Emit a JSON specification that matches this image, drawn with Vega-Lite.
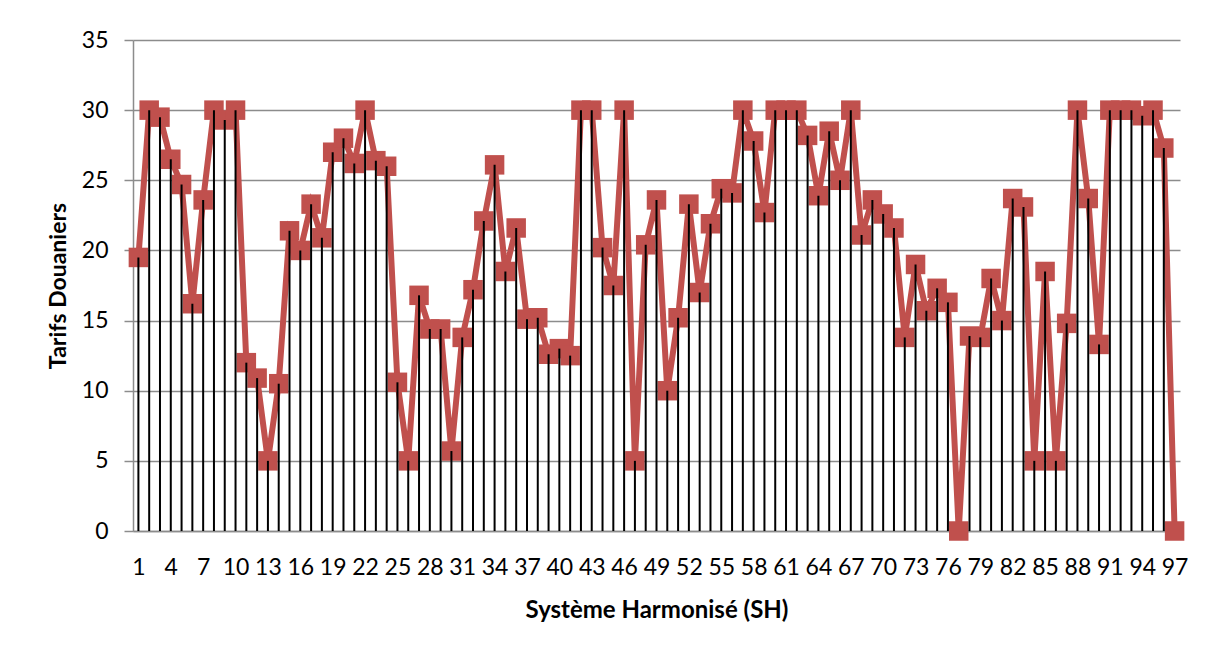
{
  "$schema": "https://vega.github.io/schema/vega-lite/v6.json",
  "autosize": {"type": "none"},
  "width": 1047,
  "height": 491,
  "padding": {"left": 133, "top": 40, "right": 32, "bottom": 117},
  "background": "white",
  "config": {
    "view": {"stroke": null},
    "font": "Lato"
  },
  "data": {
    "values": [
      {"sh": 1, "tarif": 19.5}, {"sh": 2, "tarif": 30}, {"sh": 3, "tarif": 29.5}, {"sh": 4, "tarif": 26.5},
      {"sh": 5, "tarif": 24.7}, {"sh": 6, "tarif": 16.2}, {"sh": 7, "tarif": 23.6}, {"sh": 8, "tarif": 30},
      {"sh": 9, "tarif": 29.3}, {"sh": 10, "tarif": 30}, {"sh": 11, "tarif": 12.0}, {"sh": 12, "tarif": 10.9},
      {"sh": 13, "tarif": 5}, {"sh": 14, "tarif": 10.5}, {"sh": 15, "tarif": 21.4}, {"sh": 16, "tarif": 20},
      {"sh": 17, "tarif": 23.3}, {"sh": 18, "tarif": 20.9}, {"sh": 19, "tarif": 27.0}, {"sh": 20, "tarif": 28.0},
      {"sh": 21, "tarif": 26.2}, {"sh": 22, "tarif": 30}, {"sh": 23, "tarif": 26.4}, {"sh": 24, "tarif": 26.0},
      {"sh": 25, "tarif": 10.6}, {"sh": 26, "tarif": 5}, {"sh": 27, "tarif": 16.8}, {"sh": 28, "tarif": 14.4},
      {"sh": 29, "tarif": 14.4}, {"sh": 30, "tarif": 5.7}, {"sh": 31, "tarif": 13.8}, {"sh": 32, "tarif": 17.2},
      {"sh": 33, "tarif": 22.1}, {"sh": 34, "tarif": 26.1}, {"sh": 35, "tarif": 18.5}, {"sh": 36, "tarif": 21.6},
      {"sh": 37, "tarif": 15.1}, {"sh": 38, "tarif": 15.2}, {"sh": 39, "tarif": 12.6}, {"sh": 40, "tarif": 13.0},
      {"sh": 41, "tarif": 12.5}, {"sh": 42, "tarif": 30}, {"sh": 43, "tarif": 30}, {"sh": 44, "tarif": 20.2},
      {"sh": 45, "tarif": 17.5}, {"sh": 46, "tarif": 30}, {"sh": 47, "tarif": 5}, {"sh": 48, "tarif": 20.4},
      {"sh": 49, "tarif": 23.6}, {"sh": 50, "tarif": 10.0}, {"sh": 51, "tarif": 15.2}, {"sh": 52, "tarif": 23.3},
      {"sh": 53, "tarif": 17.0}, {"sh": 54, "tarif": 21.9}, {"sh": 55, "tarif": 24.4}, {"sh": 56, "tarif": 24.1},
      {"sh": 57, "tarif": 30}, {"sh": 58, "tarif": 27.8}, {"sh": 59, "tarif": 22.7}, {"sh": 60, "tarif": 30},
      {"sh": 61, "tarif": 30}, {"sh": 62, "tarif": 30}, {"sh": 63, "tarif": 28.2}, {"sh": 64, "tarif": 23.9},
      {"sh": 65, "tarif": 28.5}, {"sh": 66, "tarif": 25.0}, {"sh": 67, "tarif": 30}, {"sh": 68, "tarif": 21.1},
      {"sh": 69, "tarif": 23.6}, {"sh": 70, "tarif": 22.6}, {"sh": 71, "tarif": 21.6}, {"sh": 72, "tarif": 13.8},
      {"sh": 73, "tarif": 19.0}, {"sh": 74, "tarif": 15.7}, {"sh": 75, "tarif": 17.3}, {"sh": 76, "tarif": 16.3},
      {"sh": 77, "tarif": 0}, {"sh": 78, "tarif": 13.9}, {"sh": 79, "tarif": 13.8}, {"sh": 80, "tarif": 18.0},
      {"sh": 81, "tarif": 15.0}, {"sh": 82, "tarif": 23.7}, {"sh": 83, "tarif": 23.1}, {"sh": 84, "tarif": 5},
      {"sh": 85, "tarif": 18.5}, {"sh": 86, "tarif": 5}, {"sh": 87, "tarif": 14.8}, {"sh": 88, "tarif": 30},
      {"sh": 89, "tarif": 23.7}, {"sh": 90, "tarif": 13.3}, {"sh": 91, "tarif": 30}, {"sh": 92, "tarif": 30},
      {"sh": 93, "tarif": 30}, {"sh": 94, "tarif": 29.6}, {"sh": 95, "tarif": 30}, {"sh": 96, "tarif": 27.3},
      {"sh": 97, "tarif": 0}
    ]
  },
  "encoding": {
    "x": {
      "field": "sh",
      "type": "ordinal",
      "scale": {"type": "point", "padding": 0.5},
      "axis": {
        "title": "Système Harmonisé (SH)",
        "values": [1,4,7,10,13,16,19,22,25,28,31,34,37,40,43,46,49,52,55,58,61,64,67,70,73,76,79,82,85,88,91,94,97],
        "labelAngle": 0,
        "labelFont": "Lato",
        "labelFontSize": 23,
        "labelColor": "black",
        "labelPadding": 25,
        "ticks": false,
        "domain": true,
        "domainColor": "#8c8c8c",
        "domainWidth": 1.5,
        "grid": false,
        "titleFont": "Lato",
        "titleFontSize": 24,
        "titleFontWeight": "bold",
        "titleColor": "black",
        "titlePadding": 19
      }
    },
    "y": {
      "field": "tarif",
      "type": "quantitative",
      "scale": {"domain": [0, 35], "nice": false},
      "axis": {
        "title": "Tarifs Douaniers",
        "values": [0, 5, 10, 15, 20, 25, 30, 35],
        "labelFont": "Lato",
        "labelFontSize": 23,
        "labelColor": "black",
        "labelPadding": 16,
        "tickSize": 9,
        "tickColor": "#8c8c8c",
        "tickWidth": 1.5,
        "domainColor": "#8c8c8c",
        "domainWidth": 1.5,
        "grid": true,
        "gridColor": "#8c8c8c",
        "gridWidth": 1.5,
        "titleFont": "Lato",
        "titleFontSize": 23,
        "titleFontWeight": "bold",
        "titleColor": "black",
        "titlePadding": 11
      }
    }
  },
  "layer": [
    {
      "mark": {"type": "line", "color": "#C0504D", "strokeWidth": 6, "strokeJoin": "miter"}
    },
    {
      "mark": {"type": "point", "shape": "square", "filled": true, "color": "#C0504D", "opacity": 1, "size": 380}
    },
    {
      "mark": {"type": "rule", "color": "black", "strokeWidth": 2},
      "encoding": {"y2": {"datum": 0}}
    }
  ]
}
